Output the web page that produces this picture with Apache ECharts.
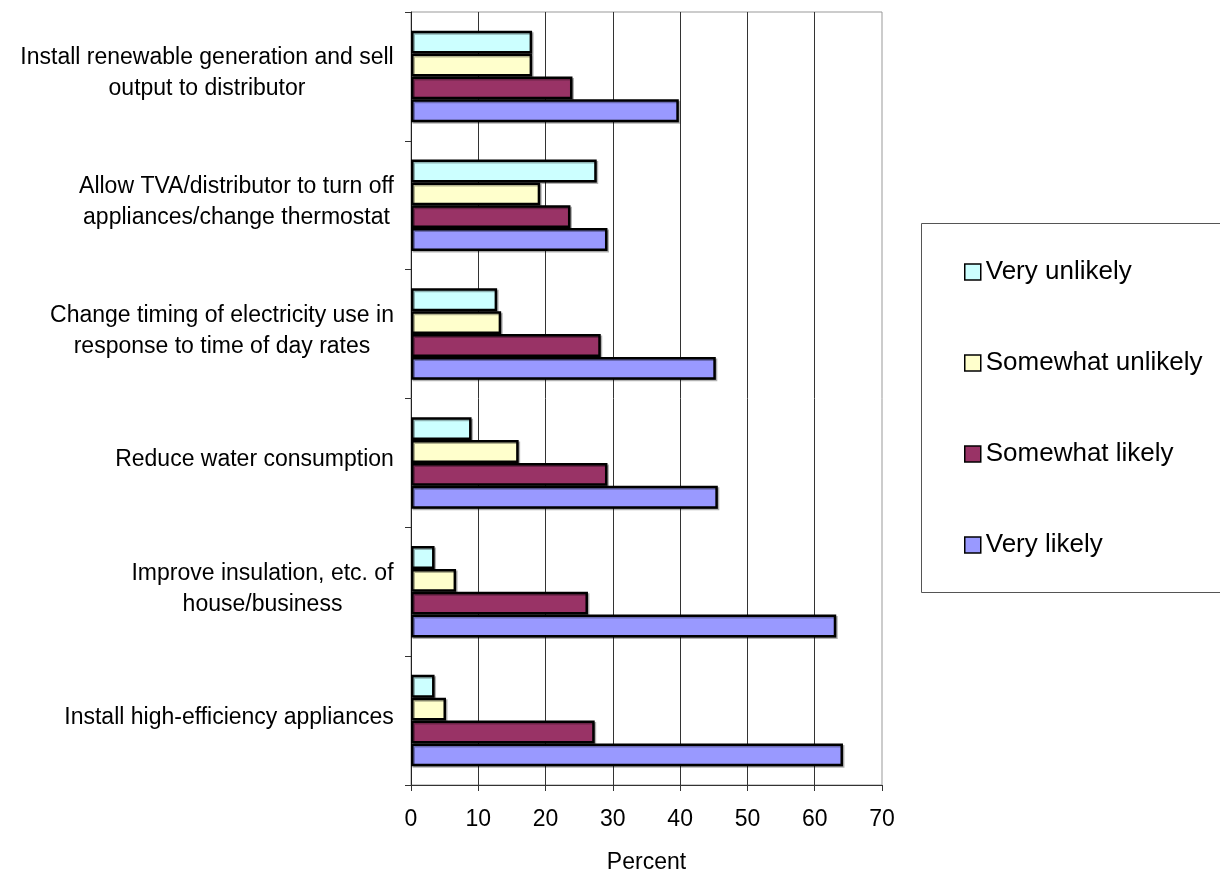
<!DOCTYPE html>
<html>
<head>
<meta charset="utf-8">
<script src="https://cdn.jsdelivr.net/npm/echarts@6/dist/echarts.min.js"></script>
<style>
html,body{margin:0;padding:0;background:#fff;}
#chart{width:1220px;height:873px;}
</style>
</head>
<body>
<div id="chart"></div>
<script>
// Categories, top to bottom as displayed
const categories = [
  "Install renewable generation and sell\noutput to distributor",
  "Allow TVA/distributor to turn off\nappliances/change thermostat",
  "Change timing of electricity use in\nresponse to time of day rates",
  "Reduce water consumption",
  "Improve insulation, etc. of\nhouse/business",
  "Install high-efficiency appliances"
];
const seriesNames = ["Very unlikely", "Somewhat unlikely", "Somewhat likely", "Very likely"];
const veryUnlikely     = [18.0, 27.6, 12.8,  9.0,  3.5,  3.5];
const somewhatUnlikely = [18.0, 19.2, 13.4, 16.0,  6.7,  5.2];
const somewhatLikely   = [24.0, 23.7, 28.2, 29.2, 26.3, 27.3];
const veryLikely       = [39.8, 29.2, 45.3, 45.6, 63.2, 64.2];
const xTicks = [0, 10, 20, 30, 40, 50, 60, 70];

const FONT = '"Liberation Sans", Arial, sans-serif';
const colors = ["#CCFFFF", "#FFFFCC", "#993366", "#9999FF"];
const values = [veryUnlikely, somewhatUnlikely, somewhatLikely, veryLikely];

// measure label widths so multi-line labels are centred within their block
const LABEL_SIZE = 23;
const ctx = document.createElement('canvas').getContext('2d');
ctx.font = LABEL_SIZE + 'px ' + FONT;
const rich = {};
categories.forEach((c, i) => {
  const w = Math.max(...c.split('\n').map(l => ctx.measureText(l).width));
  rich['l' + i] = { width: Math.ceil(w), align: 'center', fontSize: LABEL_SIZE, fontFamily: FONT, color: '#000', lineHeight: 31 };
});

const chart = echarts.init(document.getElementById('chart'), null, { renderer: 'canvas' });
const series = seriesNames.map((n, k) => ({
  name: n,
  type: 'bar',
  data: values[k],
  barGap: '0%',
  barCategoryGap: '29%',
  itemStyle: {
    color: colors[k], borderColor: '#000', borderWidth: 2.5,
    shadowColor: 'rgba(0,0,0,0.3)', shadowOffsetX: 1.5, shadowOffsetY: 1.5, shadowBlur: 0
  },
  emphasis: { disabled: true }
}));

chart.setOption({
  animation: false,
  backgroundColor: '#fff',
  textStyle: { fontFamily: FONT },
  grid: {
    left: 411, right: 338, top: 12, bottom: 88, containLabel: false, outerBoundsMode: 'none',
    show: true, borderColor: '#999', borderWidth: 1
  },
  legend: {
    orient: 'vertical', left: 959, top: 254,
    itemWidth: 16, itemHeight: 16, itemGap: 65,
    icon: 'rect',
    data: seriesNames,
    itemStyle: { borderColor: '#000', borderWidth: 1.5, shadowBlur: 0, shadowOffsetX: 0, shadowOffsetY: 0, shadowColor: 'transparent' },
    textStyle: { fontSize: 26, color: '#000', fontFamily: FONT }
  },
  graphic: [{
    type: 'rect', z: -1,
    shape: { x: 921.5, y: 223.5, width: 320, height: 369 },
    style: { fill: 'none', stroke: '#555', lineWidth: 1 }
  }],
  xAxis: {
    type: 'value', min: xTicks[0], max: xTicks[xTicks.length - 1], interval: 10,
    name: 'Percent', nameLocation: 'middle', nameGap: 66,
    nameTextStyle: { fontSize: 23, color: '#000', fontFamily: FONT },
    axisLine: { show: true, lineStyle: { color: '#333', width: 1 } },
    axisTick: { show: true, length: 6, lineStyle: { color: '#333' } },
    axisLabel: { fontSize: 23, color: '#000', margin: 23, fontFamily: FONT },
    splitLine: { show: true, showMinLine: false, showMaxLine: false, lineStyle: { color: '#333', width: 1 } }
  },
  yAxis: {
    type: 'category', inverse: true, data: categories,
    axisLine: { show: true, lineStyle: { color: '#222', width: 1 } },
    axisTick: { show: true, length: 6, lineStyle: { color: '#333' } },
    axisLabel: {
      margin: 17, fontSize: LABEL_SIZE, color: '#000', fontFamily: FONT, lineHeight: 31,
      padding: [0, 0, 6, 0],
      formatter: (v, i) => v.split('\n').map(l => '{l' + i + '|' + l + '}').join('\n'),
      rich: rich
    },
    splitLine: { show: false }
  },
  series: series
});
</script>
</body>
</html>
